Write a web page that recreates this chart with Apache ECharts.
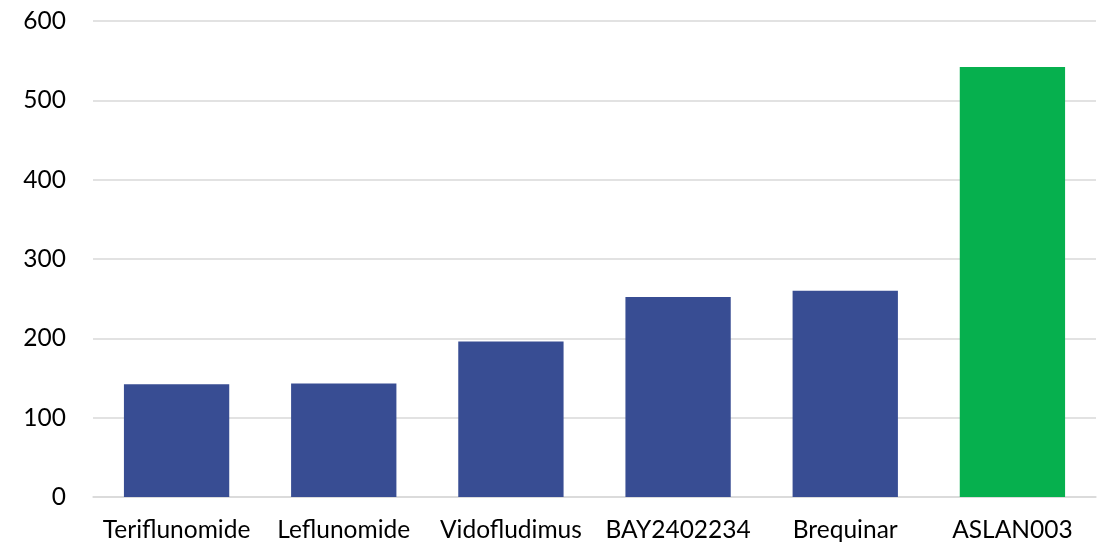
<!DOCTYPE html>
<html><head><meta charset="utf-8">
<script src="https://cdn.jsdelivr.net/npm/echarts@6/dist/echarts.min.js"></script>
<style>html,body{margin:0;padding:0;background:#fff}#c{width:1102px;height:545px}</style>
</head><body><div id="c"></div>
<script>
const categories = ['Teriflunomide','Leflunomide','Vidofludimus','BAY2402234','Brequinar','ASLAN003'];
const values = [142, 143, 196, 252, 260, 542];
const barColors = ['#384D93','#384D93','#384D93','#384D93','#384D93','#06B04E'];
const yTicks = [0,100,200,300,400,500,600];

const chart = echarts.init(document.getElementById('c'));
chart.setOption({
  animation:false,
  grid:{left:93,right:6,top:21,bottom:48,containLabel:false},
  xAxis:{type:'category',data:categories,
    axisLine:{show:true,lineStyle:{color:'#D9D9D9',width:1.5}},
    axisTick:{show:false},
    axisLabel:{color:'#000',fontSize:24.5,fontFamily:'Lato',margin:21,interval:0,hideOverlap:false}},
  yAxis:{type:'value',min:yTicks[0],max:yTicks[yTicks.length-1],interval:100,
    axisLine:{show:false},axisTick:{show:false},
    splitLine:{lineStyle:{color:'#D9D9D9',width:1.5}},
    axisLabel:{color:'#000',fontSize:24.5,fontFamily:'Lato',margin:27}},
  series:[{type:'bar',barCategoryGap:'37%',
    data:values.map((v,i)=>({value:v,itemStyle:{color:barColors[i]}}))}]
});
</script></body></html>
